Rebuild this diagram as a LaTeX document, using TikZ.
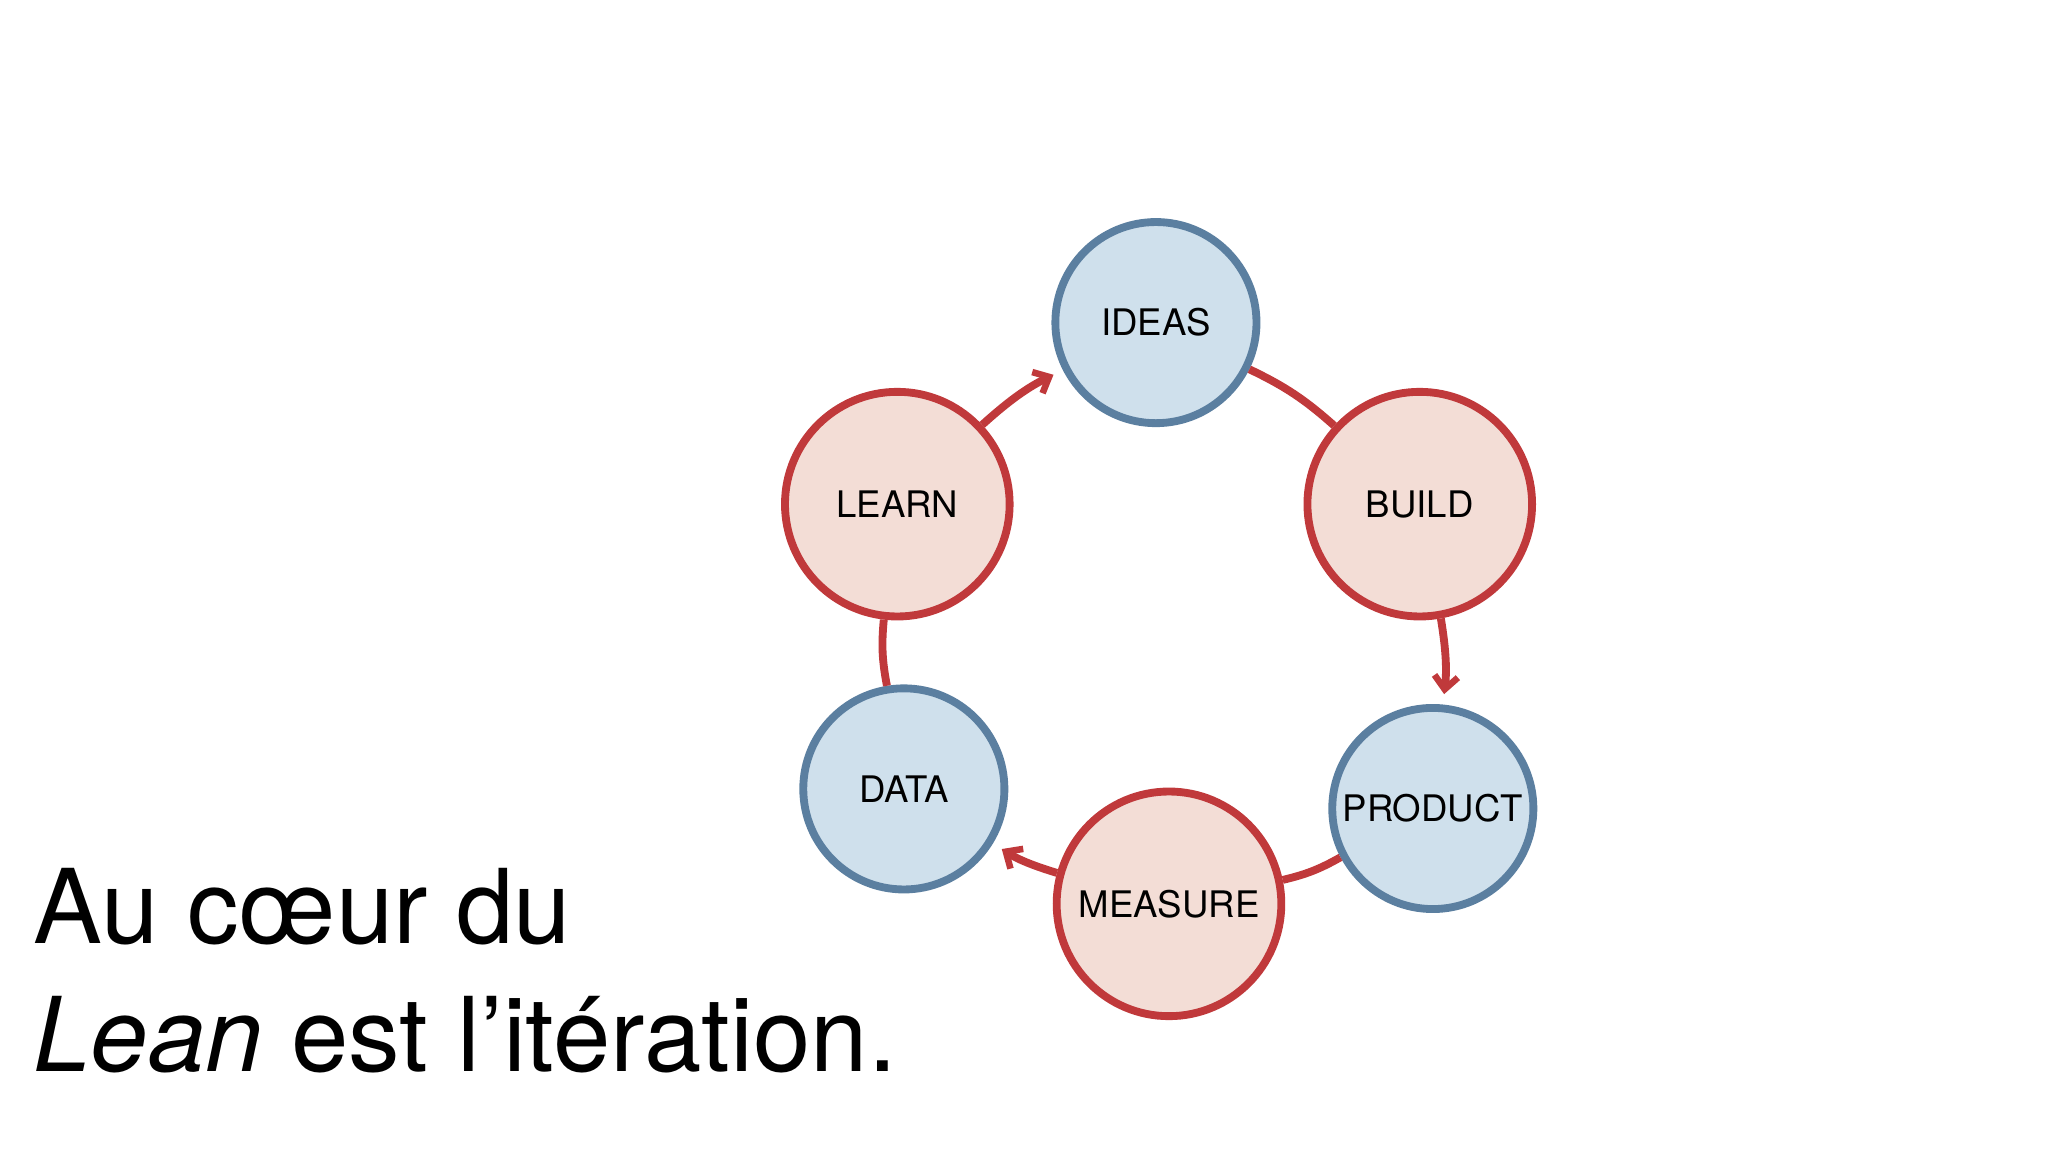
\documentclass[tikz,border=0pt]{standalone}
\usepackage{fontspec}
\setmainfont{TeX Gyre Heros}
\usetikzlibrary{positioning, arrows.meta}
\definecolor{bluefill}{HTML}{CFE0EC}
\definecolor{blueline}{HTML}{5B7FA0}
\definecolor{redfill}{HTML}{F3DDD6}
\definecolor{redline}{HTML}{C0393B}
\tikzset{
  stage/.style={circle, line width=6pt, inner sep=0pt, font=\fontsize{28}{30}\selectfont},
  bstage/.style={stage, draw=blueline, fill=bluefill, minimum size=154pt},
  rstage/.style={stage, draw=redline, fill=redfill, minimum size=172pt},
  link/.style={draw=redline, line width=6pt, bend left=8},
  flow/.style={link, -{Straight Barb[length=10pt, width=18pt, line width=5pt]}, shorten >=8pt}
}
\begin{document}
\begin{tikzpicture}[x=1pt, y=-1pt]
        \useasboundingbox (0,0) rectangle (1568,882);

        \node[bstage] (ideas)   at (885,247)  {IDEAS};     %top
        \node[rstage] (build)   at (1087,386) {BUILD};
        \node[bstage] (product) at (1097,619) {PRODUCT};
        \node[rstage] (measure) at (895,692)  {MEASURE};
        \node[bstage] (data)    at (692,604)  {DATA};
        \node[rstage] (learn)   at (687,386)  {LEARN};

        \draw[link] (ideas)   to (build);
        \draw[flow] (build)   to (product);
        \draw[link] (product) to (measure);
        \draw[flow] (measure) to (data);
        \draw[link] (data)    to (learn);
        \draw[flow] (learn)   to (ideas);

        \node[anchor=base west, font=\fontsize{79}{100}\selectfont] (title1) at (22,722) {Au cœur du};
        \node[anchor=base west, font=\fontsize{79}{100}\selectfont] (title2) at (22,820) {\textit{Lean} est l’itération.};
\end{tikzpicture}
\end{document}
